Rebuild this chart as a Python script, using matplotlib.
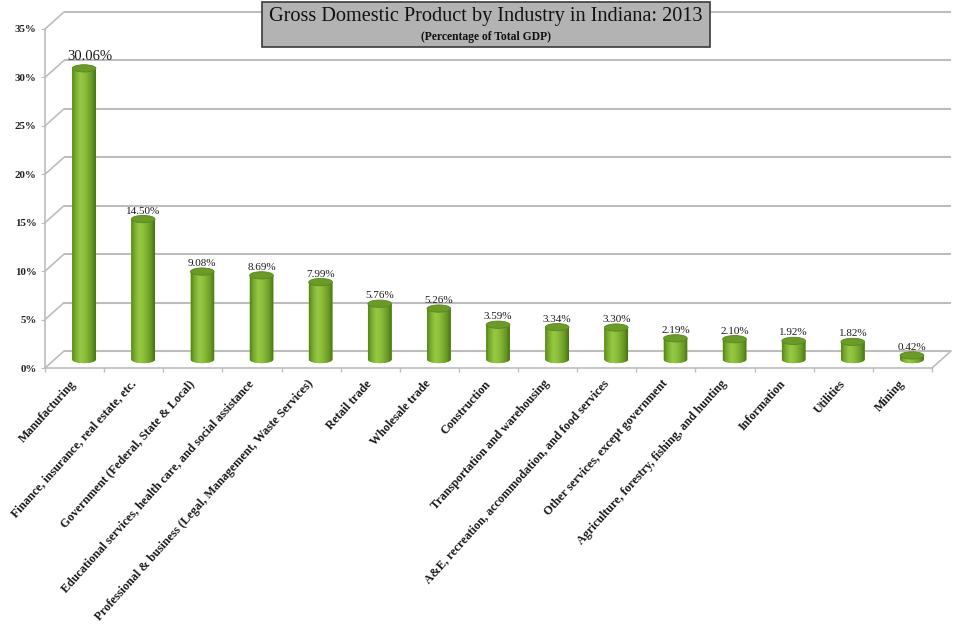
import numpy as np
import matplotlib
matplotlib.use("Agg")
import matplotlib.pyplot as plt
from matplotlib import transforms
from matplotlib.patches import Ellipse, PathPatch, Rectangle, ConnectionPatch
from matplotlib.path import Path
from matplotlib.colors import LinearSegmentedColormap
from matplotlib.ticker import FixedLocator

# ---------------- data ----------------
industries = [
    "Manufacturing",
    "Finance, insurance, real estate, etc.",
    "Government (Federal, State & Local)",
    "Educational services, health care, and social assistance",
    "Professional & business (Legal, Management, Waste Services)",
    "Retail trade",
    "Wholesale trade",
    "Construction",
    "Transportation and warehousing",
    "A&E, recreation, accommodation, and food services",
    "Other services, except government",
    "Agriculture, forestry, fishing, and hunting",
    "Information",
    "Utilities",
    "Mining",
]
shares = [30.06, 14.50, 9.08, 8.69, 7.99, 5.76, 5.26, 3.59, 3.34, 3.30,
          2.19, 2.10, 1.92, 1.82, 0.42]
y_ticks = [0, 5, 10, 15, 20, 25, 30, 35]
y_tick_labels = ["0%", "5%", "10%", "15%", "20%", "25%", "30%", "35%"]
title = "Gross Domestic Product by Industry in Indiana: 2013"
subtitle = "(Percentage of Total GDP)"

# ---------------- layout ----------------
W, H = 956, 628
DPI = 100
SERIF = ["Liberation Serif", "DejaVu Serif"]
GRID = "#bdbdbd"

fig = plt.figure(figsize=(W / DPI, H / DPI), dpi=DPI)
fig.patch.set_facecolor("white")
ax = fig.add_axes([45 / W, 1 - 368 / H, 887 / W, 339 / H])
ax.set_facecolor("none")

# depth offsets (pseudo 3-D)
back = ax.transData + transforms.ScaledTranslation(19 / DPI, 17 / DPI, fig.dpi_scale_trans)
mid = ax.transData + transforms.ScaledTranslation(9.5 / DPI, 8.5 / DPI, fig.dpi_scale_trans)

n = len(industries)
xs = np.arange(n)
x_lo, x_hi = -0.5, n - 0.5

# back wall gridlines
ax.hlines(y_ticks, x_lo, x_hi, colors=GRID, lw=1.5, transform=back, clip_on=False, zorder=1)
# side diagonals
for yv in y_ticks:
    cp = ConnectionPatch(xyA=(x_lo, yv), coordsA=ax.transData, xyB=(x_lo, yv), coordsB=back,
                         color=GRID, lw=1.2, zorder=1)
    ax.add_artist(cp)
cp = ConnectionPatch(xyA=(x_hi, 0), coordsA=ax.transData, xyB=(x_hi, 0), coordsB=back,
                     color=GRID, lw=1.2, zorder=1)
ax.add_artist(cp)

# ---------------- cylinders ----------------
cyl_cmap = LinearSegmentedColormap.from_list(
    "cyl", [(0.0, "#55841a"), (0.12, "#74a62d"), (0.35, "#98c945"),
            (0.55, "#8bbd3a"), (0.85, "#669624"), (1.0, "#467112")])
grad = np.linspace(0, 1, 64).reshape(1, -1)
bar_w = 0.4
ell_h = 0.75  # ellipse height in % units

bars = ax.bar(xs, shares, width=bar_w, color="#84b636", linewidth=0,
              transform=mid, clip_on=False, zorder=3)
for rect, val in zip(bars, shares):
    x0 = rect.get_x()
    w = rect.get_width()
    cx = x0 + w / 2
    top = rect.get_height()
    t = np.linspace(np.pi, 2 * np.pi, 40)
    verts = [(x0, top), (x0, 0)]
    verts += list(zip(cx + (w / 2) * np.cos(t), 0 + (ell_h / 2) * np.sin(t)))
    verts += [(x0 + w, top), (x0, top)]
    codes = [Path.MOVETO] + [Path.LINETO] * (len(verts) - 2) + [Path.CLOSEPOLY]
    body = PathPatch(Path(verts, codes), facecolor="#84b636", edgecolor="none",
                     transform=mid, clip_on=False, zorder=3)
    ax.add_patch(body)
    im = ax.imshow(grad, cmap=cyl_cmap, aspect="auto", interpolation="bicubic",
                   extent=(x0, x0 + w, -ell_h, top), transform=mid, zorder=3.5)
    im.set_clip_path(body)
    im.set_clip_box(None)
    cap = Ellipse((cx, top), width=w, height=ell_h, facecolor="#6b9a29",
                  edgecolor="#58871d", lw=0.6, transform=mid, clip_on=False, zorder=4)
    ax.add_patch(cap)
    big = val == max(shares)
    ax.annotate(f"{val:.2f}%", xy=(cx, top), xycoords=mid,
                xytext=(4 if big else 0, 3.5 if big else 2.5), textcoords="offset points",
                ha="center", va="bottom", fontsize=10.5 if big else 8,
                family=SERIF, color="#1a1a1a", clip_on=False, zorder=5)

# ---------------- axes styling ----------------
ax.set_xlim(x_lo, x_hi)
ax.set_ylim(0, 35)
for s in ["top", "right"]:
    ax.spines[s].set_visible(False)
for s in ["left", "bottom"]:
    ax.spines[s].set_color(GRID)
    ax.spines[s].set_linewidth(1.2)

ax.set_yticks(y_ticks)
ax.set_yticklabels(y_tick_labels, family=SERIF, fontweight="bold", fontsize=7.8, color="#222222")
ax.tick_params(axis="y", length=3, color=GRID, pad=3)

ax.set_xticks(xs)
ax.set_xticklabels(industries, family=SERIF, fontweight="bold", fontsize=8.7, color="#1a1a1a")
plt.setp(ax.get_xticklabels(), rotation=48, ha="right", va="center", rotation_mode="anchor")
ax.tick_params(axis="x", which="major", length=0, pad=10)
ax.xaxis.set_minor_locator(FixedLocator(np.arange(x_lo, x_hi + 0.01, 1.0)))
ax.tick_params(axis="x", which="minor", length=3, color=GRID, width=1)

# ---------------- title box ----------------
fig.add_artist(Rectangle((262 / W, 1 - 47 / H), 448 / W, 45 / H, transform=fig.transFigure,
                         facecolor="#b3b3b3", edgecolor="#3a3a3a", lw=1.2, zorder=10))
fig.text(486 / W, 1 - 16 / H, title, ha="center", va="center", fontsize=14.6,
         family=SERIF, color="#111111", zorder=11)
fig.text(486 / W, 1 - 37 / H, subtitle, ha="center", va="center", fontsize=8.4,
         family=SERIF, fontweight="bold", color="#111111", zorder=11)

fig.savefig("out.png", dpi=DPI, facecolor="white")
